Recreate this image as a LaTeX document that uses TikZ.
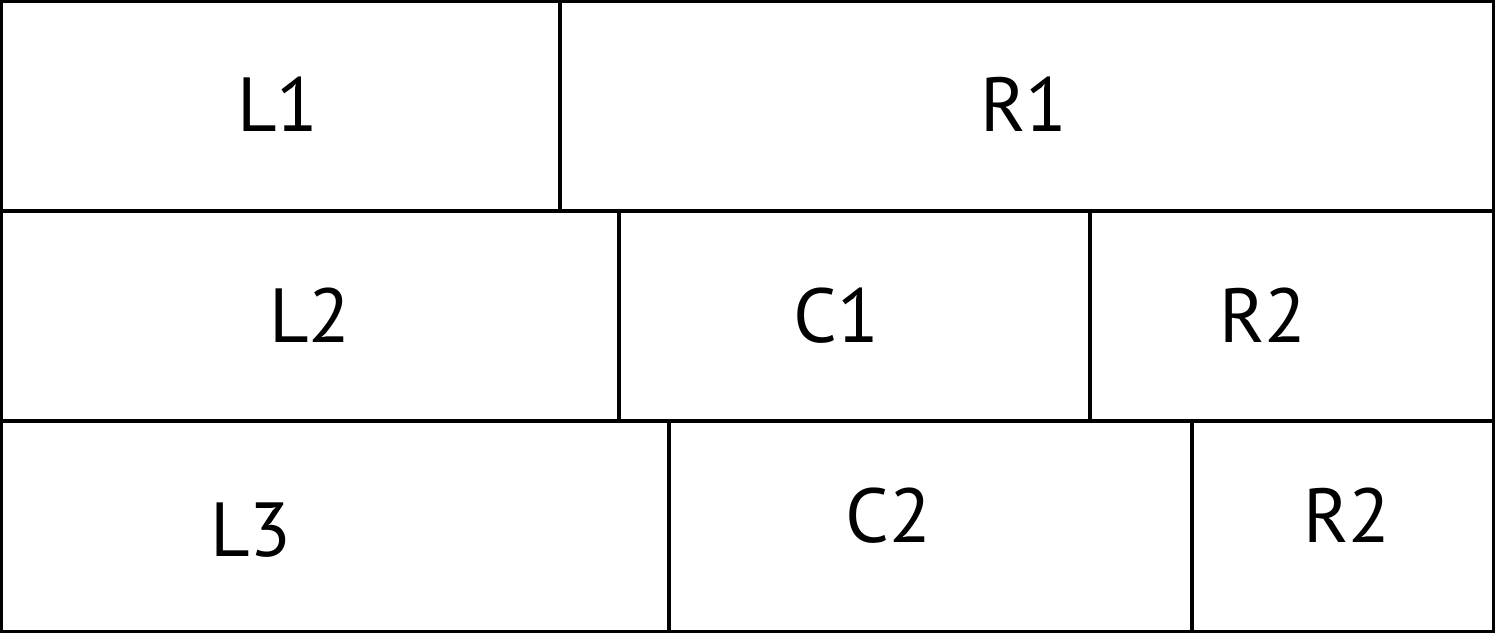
\documentclass[tikz,border=0pt]{standalone}
\usepackage{fontspec}
\setmainfont{PT Sans}
\begin{document}
\begin{tikzpicture}[x=0.01cm,y=-0.01cm,
  cell/.style={draw=black,line width=1.05pt},
  lbl/.style={anchor=base,inner sep=0pt,font=\fontsize{21.8pt}{24pt}\selectfont}]
\useasboundingbox (0,0) rectangle (1495,633);
\draw[cell] (1.5,1.5) rectangle (560,211) node[midway,inner sep=0] (bL1) {};
\draw[cell] (560,1.5) rectangle (1493.5,211) node[midway,inner sep=0] (bR1) {};
\draw[cell] (1.5,211) rectangle (619,421) node[midway,inner sep=0] (bL2) {};
\draw[cell] (619,211) rectangle (1090,421) node[midway,inner sep=0] (bC1) {};
\draw[cell] (1090,211) rectangle (1493.5,421) node[midway,inner sep=0] (bR2a) {};
\draw[cell] (1.5,421) rectangle (669,631.5) node[midway,inner sep=0] (bL3) {};
\draw[cell] (669,421) rectangle (1192,631.5) node[midway,inner sep=0] (bC2) {};
\draw[cell] (1192,421) rectangle (1493.5,631.5) node[midway,inner sep=0] (bR2b) {};
\node[lbl] (tL1) at (278,131) {L1};
\node[lbl] (tR1) at (1024,131) {R1};
\node[lbl] (tL2) at (310,342) {L2};
\node[lbl] (tC1) at (836,342) {C1};
\node[lbl] (tR2a) at (1263,342) {R2};
\node[lbl] (tL3) at (251,556) {L3};
\node[lbl] (tC2) at (888,542) {C2};
\node[lbl] (tR2b) at (1347,542) {R2};
\end{tikzpicture}
\end{document}
